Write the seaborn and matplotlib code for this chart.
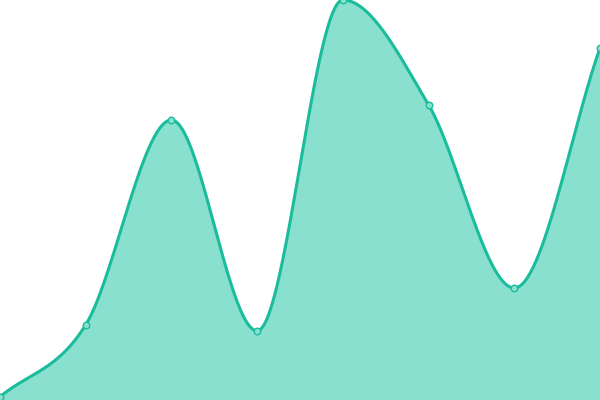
import numpy as np
import pandas as pd
import matplotlib
matplotlib.use("Agg")
import matplotlib.pyplot as plt
import seaborn as sns

# data (index positions, values on a 0-100 scale)
idx = [0, 1, 2, 3, 4, 5, 6, 7]
values = [0.8, 18.8, 70, 17.3, 100, 73.8, 28, 88]

line_color = "#1abc9c"
fill_color = "#8ae0cf"


def monotone_slopes(x, y):
    # monotone cubic tangents (secant at the ends, Fritsch-Carlson limit)
    x = np.asarray(x, float)
    y = np.asarray(y, float)
    d = np.diff(y) / np.diff(x)
    m = np.zeros(len(x))
    m[0] = d[0]
    m[-1] = d[-1]
    for i in range(1, len(x) - 1):
        if d[i - 1] == 0 or d[i] == 0 or np.sign(d[i - 1]) != np.sign(d[i]):
            m[i] = 0
        else:
            m[i] = (d[i - 1] + d[i]) / 2
    for i in range(len(d)):
        if abs(d[i]) < 1e-9:
            m[i] = m[i + 1] = 0
            continue
        a = m[i] / d[i]
        b = m[i + 1] / d[i]
        tau2 = a * a + b * b
        if tau2 > 9:
            tau = 3 / np.sqrt(tau2)
            m[i] = a * tau * d[i]
            m[i + 1] = b * tau * d[i]
    return m


def smooth(x, y, n=60):
    x = np.asarray(x, float)
    y = np.asarray(y, float)
    t = monotone_slopes(x, y)
    xs, ys = [], []
    for i in range(len(x) - 1):
        h = x[i + 1] - x[i]
        u = np.linspace(0, 1, n, endpoint=(i == len(x) - 2))
        h00 = 2 * u**3 - 3 * u**2 + 1
        h10 = u**3 - 2 * u**2 + u
        h01 = -2 * u**3 + 3 * u**2
        h11 = u**3 - u**2
        xs.append(x[i] + u * h)
        ys.append(h00 * y[i] + h10 * h * t[i] + h01 * y[i + 1] + h11 * h * t[i + 1])
    return np.concatenate(xs), np.concatenate(ys)


xs, ys = smooth(idx, values)
curve = pd.DataFrame({"x": xs, "y": ys})
pts = pd.DataFrame({"x": idx, "y": values})

fig = plt.figure(figsize=(6, 4), dpi=100)
ax = fig.add_axes([0, 0, 1, 1])
ax.fill_between(curve["x"], curve["y"], 0, color=fill_color, linewidth=0)
sns.lineplot(data=curve, x="x", y="y", color=line_color, linewidth=2.2, ax=ax, clip_on=False)
sns.scatterplot(data=pts, x="x", y="y", color=fill_color, edgecolor=line_color,
                linewidth=1, s=22, ax=ax, zorder=5, clip_on=True)
ax.set_xlim(0, 7)
ax.set_ylim(0, 100)
ax.axis("off")
fig.savefig("out.png", dpi=100)
